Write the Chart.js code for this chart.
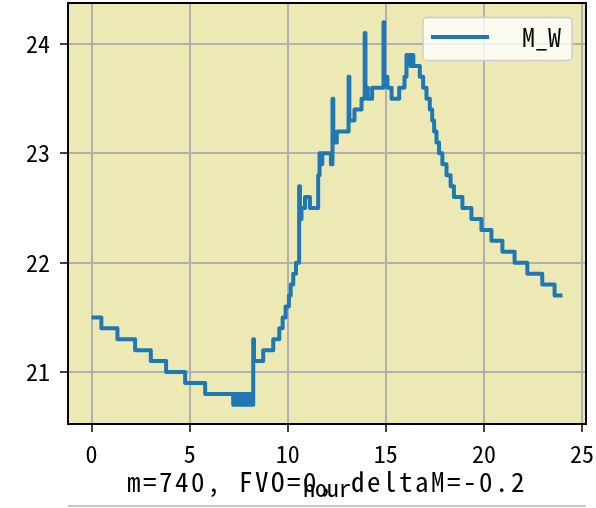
<!DOCTYPE html>
<html>
<head>
<meta charset="utf-8">
<script src="https://cdn.jsdelivr.net/npm/chart.js@4"></script>
<style>
  html, body { margin: 0; padding: 0; background: #fff; }
  canvas { display: block; }
</style>
</head>
<body>
<canvas id="grafico" width="596" height="508"></canvas>
<script>
// hour where each level starts, and the level (stepped line)
const horas = [0, 0.5, 1.32, 2.22, 3.02, 3.8, 4.77, 5.79,
  7.22, 7.28, 7.34, 7.40, 7.46, 7.52, 7.58, 7.64, 7.70, 7.76, 7.82, 7.88, 7.94, 8.00, 8.06, 8.12, 8.18,
  8.24, 8.28, 8.75, 9.26, 9.57, 9.74, 9.89, 10.06, 10.15, 10.28, 10.42,
  10.58, 10.62, 10.7, 10.88, 11.13, 11.55, 11.62, 11.7, 11.76, 12.2,
  12.28, 12.32, 12.5, 13.1, 13.14, 13.4, 13.76, 13.92, 13.96, 14.08, 14.3,
  14.88, 14.92, 15.08, 15.29, 15.68, 15.95, 16.05, 16.25, 16.3, 16.4,
  16.73, 16.9, 17.07, 17.24, 17.36, 17.46, 17.58, 17.71, 17.88, 18.09, 18.3, 18.47,
  18.9, 19.36, 19.87, 20.38, 20.94, 21.56, 22.21, 22.97, 23.6, 24.0];
const valoresMW = [21.5, 21.4, 21.3, 21.2, 21.1, 21.0, 20.9, 20.8,
  20.7, 20.8, 20.7, 20.8, 20.7, 20.8, 20.7, 20.8, 20.7, 20.8, 20.7, 20.8, 20.7, 20.8, 20.7, 20.8, 20.7,
  21.3, 21.1, 21.2, 21.3, 21.4, 21.5, 21.6, 21.7, 21.8, 21.9, 22.0,
  22.7, 22.4, 22.5, 22.6, 22.5, 22.8, 23.0, 22.9, 23.0, 22.9,
  23.5, 23.1, 23.2, 23.7, 23.3, 23.4, 23.5, 24.1, 23.6, 23.5, 23.6,
  24.2, 23.7, 23.6, 23.5, 23.6, 23.7, 23.9, 23.8, 23.9, 23.8,
  23.7, 23.6, 23.5, 23.4, 23.3, 23.2, 23.1, 23.0, 22.9, 22.8, 22.7, 22.6,
  22.5, 22.4, 22.3, 22.2, 22.1, 22.0, 21.9, 21.8, 21.7, 21.7];

const ticksX = [0, 5, 10, 15, 20, 25];
const ticksY = [21, 22, 23, 24];
const rotuloSerie = "M_W";
const rotuloX = "hour";
const tituloBaixo = "m=740, FVO=0, deltaM=-0.2";

const fonte = "'Noto Sans Mono CJK SC', 'Noto Sans CJK SC', sans-serif";
const corFundo = "#ece9b4";
const corLinha = "#1f77b4";

const pontos = horas.map((h, i) => ({ x: h, y: valoresMW[i] }));

const extras = {
    id: "extras",
    beforeDraw(chart) {
        const { ctx, chartArea: a } = chart;
        ctx.save();
        ctx.fillStyle = "#fff";
        ctx.fillRect(0, 0, chart.width, chart.height);
        ctx.fillStyle = corFundo;
        ctx.fillRect(a.left, a.top, a.right - a.left, a.bottom - a.top);
        ctx.restore();
    },
    afterDraw(chart) {
        const { ctx, chartArea: a } = chart;
        ctx.save();
        // moldura
        ctx.strokeStyle = "#000";
        ctx.lineWidth = 2;
        ctx.strokeRect(a.left, a.top, a.right - a.left, a.bottom - a.top);

        // legenda
        const lx = a.right - 163, ly = a.top + 14.5, lw = 149, lh = 43;
        ctx.beginPath();
        ctx.roundRect(lx, ly, lw, lh, 4);
        ctx.fillStyle = "rgba(255,255,255,0.8)";
        ctx.fill();
        ctx.strokeStyle = "#cccccc";
        ctx.lineWidth = 1.5;
        ctx.stroke();
        ctx.beginPath();
        ctx.moveTo(lx + 8, ly + 19.5);
        ctx.lineTo(lx + 66, ly + 19.5);
        ctx.strokeStyle = corLinha;
        ctx.lineWidth = 4;
        ctx.stroke();
        ctx.fillStyle = "#000";
        ctx.font = "26px " + fonte;
        ctx.textBaseline = "middle";
        ctx.textAlign = "left";
        ctx.fillText(rotuloSerie, lx + 99, ly + 20);

        // rotulo do eixo x
        ctx.font = "24px " + fonte;
        ctx.textAlign = "center";
        ctx.textBaseline = "alphabetic";
        ctx.fillText(rotuloX, (a.left + a.right) / 2, 497);

        // texto de baixo
        ctx.font = "27px " + fonte;
        ctx.textAlign = "left";
        const larg = ctx.measureText(tituloBaixo).width;
        ctx.letterSpacing = ((400 - larg) / tituloBaixo.length) + "px";
        ctx.fillText(tituloBaixo, 127, 492);
        ctx.letterSpacing = "0px";

        // linha cinza embaixo
        ctx.strokeStyle = "#c8c8c8";
        ctx.lineWidth = 2;
        ctx.beginPath();
        ctx.moveTo(a.left, 506);
        ctx.lineTo(a.right, 506);
        ctx.stroke();
        ctx.restore();
    }
};

const ctx = document.getElementById("grafico").getContext("2d");
const grafico = new Chart(ctx, {
    type: "line",
    data: {
        datasets: [{
            label: rotuloSerie,
            data: pontos,
            borderColor: corLinha,
            backgroundColor: "transparent",
            borderWidth: 4,
            borderJoinStyle: "round",
            pointRadius: 0,
            stepped: "before",
            tension: 0
        }]
    },
    options: {
        responsive: false,
        animation: false,
        devicePixelRatio: 1,
        layout: { padding: { top: 3, right: 10, left: 0, bottom: 0 } },
        plugins: { legend: { display: false }, tooltip: { enabled: false } },
        scales: {
            x: {
                type: "linear",
                min: -1.2,
                max: 25.2,
                afterBuildTicks: s => { s.ticks = ticksX.map(v => ({ value: v })); },
                afterFit: s => { s.height = 84; s.paddingLeft = 0; s.paddingRight = 0; },
                grid: { color: "#b0b0b0", lineWidth: 2, tickColor: "#000", tickLength: 8, tickWidth: 1.5 },
                border: { display: false },
                ticks: { color: "#000", font: { family: fonte, size: 24 }, padding: 7, maxRotation: 0 }
            },
            y: {
                type: "linear",
                min: 20.525,
                max: 24.375,
                afterBuildTicks: s => { s.ticks = ticksY.map(v => ({ value: v })); },
                afterFit: s => { s.width = 68; s.paddingTop = 0; s.paddingBottom = 0; },
                grid: { color: "#b0b0b0", lineWidth: 2, tickColor: "#000", tickLength: 8, tickWidth: 1.5 },
                border: { display: false },
                ticks: { color: "#000", font: { family: fonte, size: 24 }, padding: 10 }
            }
        }
    },
    plugins: [extras]
});
</script>
</body>
</html>
